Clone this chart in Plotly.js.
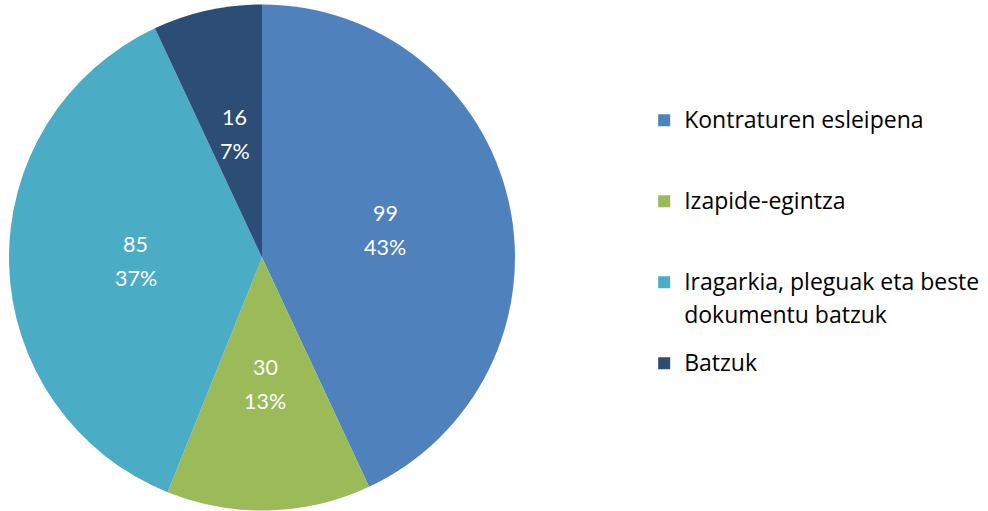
<!DOCTYPE html>
<html>
<head>
<meta charset="utf-8">
<script src="https://cdn.plot.ly/plotly-3.0.1.min.js"></script>
<style>html,body{margin:0;padding:0;background:#fff;}#chart{width:988px;height:511px;}</style>
</head>
<body>
<div id="chart"></div>
<script>
const categories = ["Kontraturen esleipena", "Izapide-egintza", "Iragarkia, pleguak eta beste<br>dokumentu batzuk", "Batzuk"];
const values = [99, 30, 85, 16];
const colors = ["#4F81BD", "#9BBB59", "#4BACC6", "#2C4D75"];
// extra blank lines give the legend its spacing
const legendPad = ["<br> <br> ", "<br> <br> ", "<br> ", ""];
const big = (s, shift) => '<span style="font-size:23px' + (shift ? ';baseline-shift:-7px' : '') + '">' + s + '</span>';
const legendLabels = categories.map((c, i) =>
  c.split("<br>").map((s, k) => big(s, k > 0)).join("<br>") + legendPad[i]);

const W = 988, H = 511;
const cx = 262, cy = 257.5, r = 253;
const FONT = "Lato, 'Open Sans', sans-serif";
const LEGEND_FONT = "'Open Sans', Lato, sans-serif";

const trace = {
  type: "pie",
  labels: legendLabels,
  values: values,
  sort: false,
  direction: "clockwise",
  rotation: 0,
  marker: {colors: colors, line: {width: 0}},
  textinfo: "none",
  hoverinfo: "value+percent",
  domain: {x: [(cx - r) / W, (cx + r) / W], y: [(H - cy - r) / H, (H - cy + r) / H]}
};

// data labels (value + percent) placed at half radius along each slice's mid-angle
const total = values.reduce((a, b) => a + b, 0);
const annotations = [];
let cum = 0;
values.forEach((v, i) => {
  const mid = (cum + v / 2) / total * 2 * Math.PI;
  cum += v;
  const px = cx + 0.5 * r * Math.sin(mid);
  const py = cy - 0.5 * r * Math.cos(mid);
  const common = {xref: "paper", yref: "paper", x: px / W, y: 1 - py / H,
    showarrow: false, xanchor: "center", yanchor: "middle",
    font: {color: "#ffffff", size: 21.5, family: FONT}};
  annotations.push(Object.assign({}, common, {text: String(v), yshift: 17}));
  annotations.push(Object.assign({}, common, {text: Math.round(v / total * 100) + "%", yshift: -17}));
});

const layout = {
  width: W, height: H,
  margin: {l: 0, r: 0, t: 0, b: 0},
  paper_bgcolor: "#ffffff",
  showlegend: true,
  legend: {
    x: 0.652, y: 0.803, xanchor: "left", yanchor: "top",
    valign: "top",
    font: {size: 20, color: "#000000", family: LEGEND_FONT},
    bgcolor: "rgba(0,0,0,0)"
  },
  annotations: annotations,
  font: {family: FONT}
};

Plotly.newPlot("chart", [trace], layout, {staticPlot: true, displayModeBar: false});
</script>
</body>
</html>
